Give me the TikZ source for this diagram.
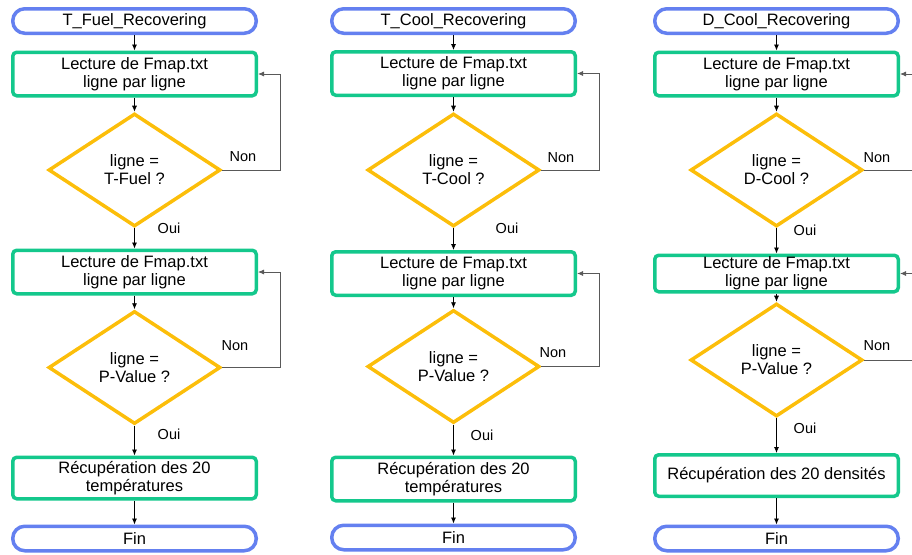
\documentclass[tikz,border=0pt]{standalone}
\usepackage{fontspec}
\setmainfont{Liberation Sans}
\usetikzlibrary{shapes.geometric,arrows.meta}
\definecolor{tblue}{RGB}{100,128,240}
\definecolor{pgreen}{RGB}{20,200,140}
\definecolor{dyellow}{RGB}{252,190,10}
\newcommand{\mainf}{\fontsize{16.5}{18}\selectfont}
\newcommand{\labf}{\fontsize{14.5}{16}\selectfont}
\tikzset{
 term/.style={draw=tblue, line width=3.5pt, rounded corners=12pt, minimum width=243.5pt, minimum height=24.5pt, inner sep=0pt, font=\mainf},
 proc/.style={draw=pgreen, line width=3.5pt, rounded corners=4pt, minimum width=243.5pt, minimum height=43.5pt, align=center, font=\mainf, inner sep=0pt},
 dec/.style={diamond, draw=dyellow, line width=3.5pt, minimum width=172pt, minimum height=113pt, align=center, font=\mainf, inner sep=0pt},
 arr/.style={-{Latex[length=6pt,width=5pt]}, line width=0.8pt, draw=black},
 loop/.style={-{Latex[length=6pt,width=5pt]}, line width=0.8pt, draw=black!65},
 lab/.style={font=\labf, inner sep=0pt}
}
\begin{document}
\begin{tikzpicture}[x=1pt,y=-1pt]
\useasboundingbox (0,0) rectangle (912,554);
\clip (0,0) rectangle (912,554);
% ---------- Column 1
\node[term] (t1) at (134.5,21) {T\_Fuel\_Recovering};
\node[proc] (a1) at (134.5,74) {Lecture de Fmap.txt\\ligne par ligne};
\node[dec] (da1) at (134.5,170) {ligne =\\T-Fuel ?};
\node[proc] (a2) at (134.5,272) {Lecture de Fmap.txt\\ligne par ligne};
\node[dec] (da2) at (134.5,367.5) {ligne =\\P-Value ?};
\node[proc, minimum height=41.5pt] (a3) at (134.5,478) {Récupération des 20\\températures};
\node[term] (f1) at (134.5,538.5) {Fin};
\draw[arr] (t1) -- (a1);
\draw[arr] (a1) -- (da1);
\draw[arr] (da1) -- (a2);
\draw[arr] (a2) -- (da2);
\draw[arr] (da2) -- (a3);
\draw[arr] (a3) -- (f1);
\draw[loop] (da1.east) -- ++(58,0) coordinate (la1) |- (a1.east);
\draw[loop] (da2.east) -- ++(58,0) coordinate (la2) |- (a2.east);
\node[lab] (na1) at (243,157) {Non};
\node[lab] (na2) at (235,346) {Non};
\node[lab] (oa1) at (169,228) {Oui};
\node[lab] (oa2) at (169,434) {Oui};
% ---------- Column 2
\node[term] (t2) at (453.5,21) {T\_Cool\_Recovering};
\node[proc] (b1) at (453.5,73.5) {Lecture de Fmap.txt\\ligne par ligne};
\node[dec] (db1) at (453.5,170) {ligne =\\T-Cool ?};
\node[proc] (b2) at (453.5,273.5) {Lecture de Fmap.txt\\ligne par ligne};
\node[dec] (db2) at (453.5,366.5) {ligne =\\P-Value ?};
\node[proc] (b3) at (453.5,479) {Récupération des 20\\températures};
\node[term] (f2) at (453.5,537.5) {Fin};
\draw[arr] (t2) -- (b1);
\draw[arr] (b1) -- (db1);
\draw[arr] (db1) -- (b2);
\draw[arr] (b2) -- (db2);
\draw[arr] (db2) -- (b3);
\draw[arr] (b3) -- (f2);
\draw[loop] (db1.east) -- ++(58,0) coordinate (lb1) |- (b1.east);
\draw[loop] (db2.east) -- ++(58,0) coordinate (lb2) |- (b2.east);
\node[lab] (nb1) at (561,158) {Non};
\node[lab] (nb2) at (553,353) {Non};
\node[lab] (ob1) at (507,228) {Oui};
\node[lab] (ob2) at (482,435) {Oui};
% ---------- Column 3
\node[term] (t3) at (776.5,21) {D\_Cool\_Recovering};
\node[proc] (c1) at (776.5,74) {Lecture de Fmap.txt\\ligne par ligne};
\node[dec] (dc1) at (776.5,170) {ligne =\\D-Cool ?};
\node[proc, minimum height=36.5pt] (c2) at (776.5,273.5) {Lecture de Fmap.txt\\ligne par ligne};
\node[dec] (dc2) at (776.5,360) {ligne =\\P-Value ?};
\node[proc, minimum height=41.5pt] (c3) at (776.5,475.5) {Récupération des 20 densités};
\node[term] (f3) at (776.5,538.5) {Fin};
\draw[arr] (t3) -- (c1);
\draw[arr] (c1) -- (dc1);
\draw[arr] (dc1) -- (c2);
\draw[arr] (c2) -- (dc2);
\draw[arr] (dc2) -- (c3);
\draw[arr] (c3) -- (f3);
\draw[loop] (dc1.east) -- ++(58,0) coordinate (lc1) |- (c1.east);
\draw[loop] (dc2.east) -- ++(58,0) coordinate (lc2) |- (c2.east);
\node[lab] (nc1) at (877,158) {Non};
\node[lab] (nc2) at (877,346) {Non};
\node[lab] (oc1) at (805,230) {Oui};
\node[lab] (oc2) at (805,428) {Oui};
\end{tikzpicture}
\end{document}
